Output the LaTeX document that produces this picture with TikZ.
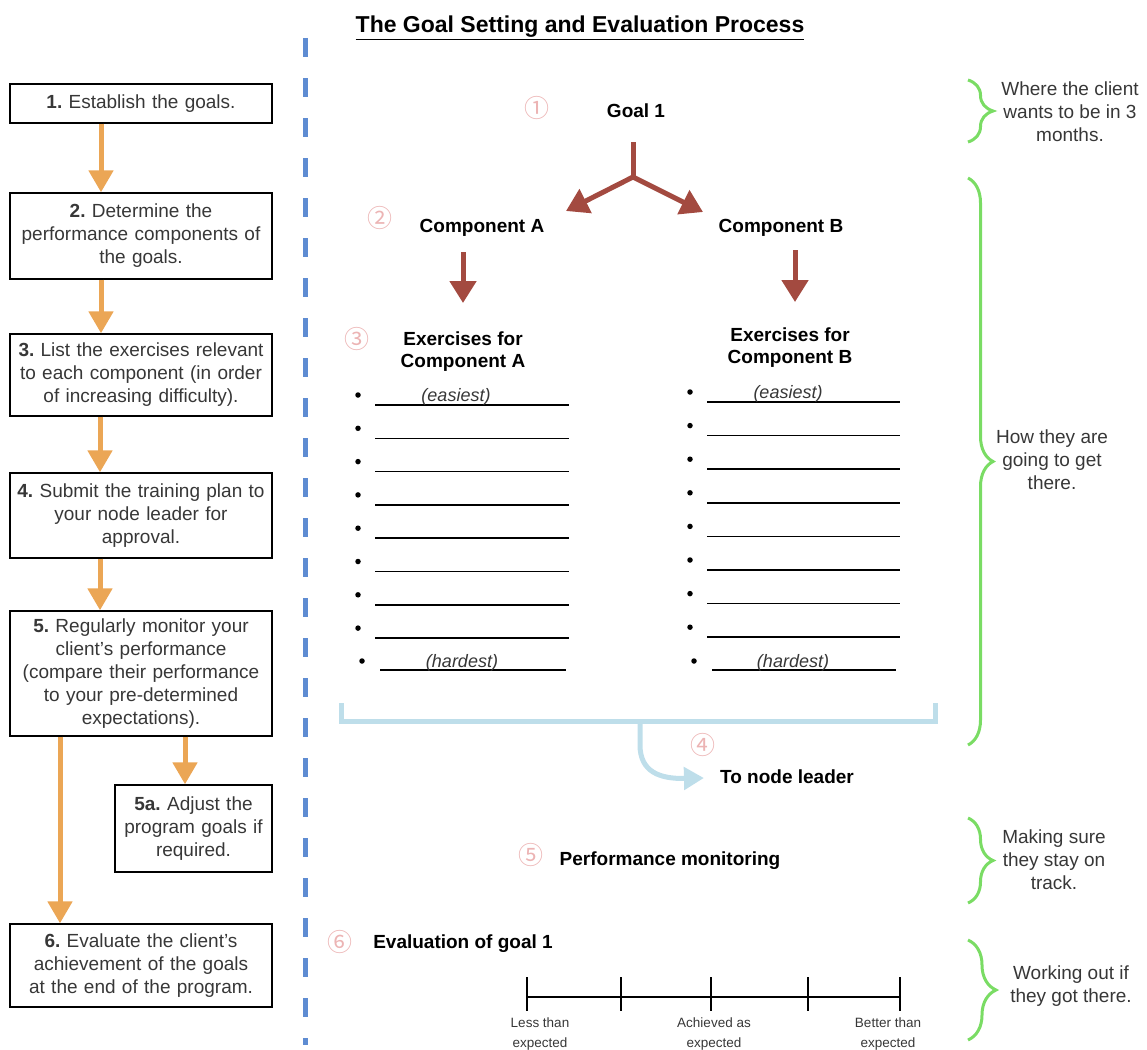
\documentclass[tikz,border=0pt]{standalone}
\usepackage{fontspec}
\setmainfont{Liberation Sans}
\newfontfamily\circfont{Noto Sans CJK SC}
\usetikzlibrary{arrows.meta,decorations.pathreplacing}
\definecolor{orangearr}{RGB}{235,166,85}
\definecolor{brownarr}{RGB}{163,74,64}
\definecolor{lblue}{RGB}{190,222,234}
\definecolor{dblue}{RGB}{94,140,210}
\definecolor{pinknum}{RGB}{236,180,180}
\definecolor{greenbr}{RGB}{122,220,100}
\definecolor{graytext}{RGB}{55,55,55}
\frenchspacing
\begin{document}
\begin{tikzpicture}[x=1pt,y=-1pt,
  every node/.style={font=\fontsize{19}{23}\selectfont, inner sep=0pt},
  stepbox/.style={draw, line width=1.4pt, text width=252pt, inner xsep=5pt, align=center, minimum width=262pt, text=graytext},
  smallbox/.style={draw, line width=1.4pt, text width=147pt, inner xsep=5pt, align=center, minimum width=157pt, text=graytext},
  oarrow/.style={draw=orangearr, line width=5pt, -{Triangle[width=24pt,length=22pt]}},
  bline/.style={draw=brownarr, line width=5pt},
  barrow/.style={draw=brownarr, line width=5pt, -{Triangle[width=26pt,length=22pt]}},
  lbl/.style={font=\bfseries\fontsize{19}{23}\selectfont, text height=14pt, text depth=4pt},
  num/.style={font=\circfont\fontsize{25}{28}\selectfont, text=pinknum},
  bul/.style={circle, fill=black, minimum size=5.5pt},
  uline/.style={draw=black, line width=1.6pt},
  note/.style={align=center, text=graytext},
  gbrace/.style={draw=greenbr, line width=3pt, decorate, decoration={brace, amplitude=25pt, aspect=0.5}},
  scl/.style={align=center, text=graytext, font=\fontsize{13.5}{20}\selectfont}
]
\useasboundingbox (0,0) rectangle (1147,1049);

% title
\node[font=\bfseries\fontsize{23}{28}\selectfont] (title) at (580,28) {\underline{The Goal Setting and Evaluation Process}};

% left column of steps
\node[stepbox, minimum height=39pt] (b1) at (141,103.5) {\textbf{1.} Establish the goals.};
\node[stepbox, minimum height=86pt] (b2) at (141,236) {\textbf{2.} Determine the\\performance components of\\the goals.};
\node[stepbox, minimum height=82pt] (b3) at (141,375) {\textbf{3.} List the exercises relevant\\to each component (in order\\of increasing difficulty).};
\node[stepbox, minimum height=85pt] (b4) at (141,515.5) {\textbf{4.} Submit the training plan to\\your node leader for\\approval.};
\node[stepbox, minimum height=125pt] (b5) at (141,673.5) {\textbf{5.} Regularly monitor your\\client’s performance\\(compare their performance\\to your pre-determined\\expectations).};
\node[smallbox, minimum height=87pt] (b5a) at (193.5,828.5) {\textbf{5a.} Adjust the\\program goals if\\required.};
\node[stepbox, minimum height=83pt] (b6) at (141,965.5) {\textbf{6.} Evaluate the client’s\\achievement of the goals\\at the end of the program.};

\draw[oarrow] ([xshift=-40pt]b1.south) -- ([xshift=-40pt]b2.north);
\draw[oarrow] ([xshift=-40pt]b2.south) -- ([xshift=-40pt]b3.north);
\draw[oarrow] ([xshift=-41pt]b3.south) -- ([xshift=-41pt]b4.north);
\draw[oarrow] ([xshift=-41pt]b4.south) -- ([xshift=-41pt]b5.north);
\coordinate (c5a) at ([xshift=44pt]b5.south);
\draw[oarrow] (c5a) -- (c5a |- b5a.north);
\draw[oarrow] ([xshift=-81pt]b5.south) -- ([xshift=-81pt]b6.north);

% dashed separator
\draw[dblue, line width=5pt, dash pattern=on 19pt off 21pt] (305,38) -- (305,1045);

% goal and components
\node[num] (n1) at (537,108) {①};
\node[lbl] (goal) at (636,112) {Goal 1};
\node[num] (n2) at (380,218) {②};
\node[lbl] (compA) at (482,227) {Component A};
\node[lbl] (compB) at (781,227) {Component B};
\coordinate (gstem) at (633,142);
\coordinate (gj) at (633,177);
\coordinate (gl) at (566,211);
\coordinate (gr) at (703,212);
\draw[bline] (gstem) -- (gj);
\draw[barrow] (gj) -- (gl);
\draw[barrow] (gj) -- (gr);
\coordinate (da1) at (463,252);
\coordinate (da2) at (463,303);
\coordinate (db1) at (795,250);
\coordinate (db2) at (795,302);
\draw[barrow] (da1) -- (da2);
\draw[barrow] (db1) -- (db2);

% exercises
\node[num] (n3) at (357,339) {③};
\node[align=center, font=\bfseries\fontsize{19}{22}\selectfont] (exA) at (463,352) {Exercises for\\Component A};
\node[align=center, font=\bfseries\fontsize{19}{22}\selectfont] (exB) at (790,348) {Exercises for\\Component B};

\foreach \i in {0,...,7} {
  \node[bul] (ba\i) at (358,{395+33.3*\i}) {};
  \draw[uline] (375,{405+33.3*\i}) -- (569,{405+33.3*\i});
  \node[bul] (bb\i) at (690,{392+33.6*\i}) {};
  \draw[uline] (707,{402+33.6*\i}) -- (900,{402+33.6*\i});
}
\node[bul] (ba8) at (362,661) {};
\draw[uline] (380,670) -- (566,670);
\node[bul] (bb8) at (694,661) {};
\draw[uline] (712,670) -- (896,670);
\node[anchor=base, font=\itshape\fontsize{18}{22}\selectfont, text=graytext] (eA) at (456,401) {(easiest)};
\node[anchor=base, font=\itshape\fontsize{18}{22}\selectfont, text=graytext] (eB) at (788,398) {(easiest)};
\node[anchor=base, font=\itshape\fontsize{18}{22}\selectfont, text=graytext] (hA) at (462,667) {(hardest)};
\node[anchor=base, font=\itshape\fontsize{18}{22}\selectfont, text=graytext] (hB) at (793,667) {(hardest)};

% to node leader bracket
\draw[lblue, line width=5pt] (341,703) -- (341,721) -- (935,721) -- (935,703);
\coordinate (lbr) at (640,721);
\node[num] (n4) at (703,745) {④};
\node[lbl] (tnl) at (787,778) {To node leader};
\draw[lblue, line width=5pt, -{Triangle[width=22pt,length=20pt]}] (lbr) -- (640,745) .. controls (640,772) and (660,779) .. ([xshift=-16pt]tnl.west);

% performance monitoring
\node[num] (n5) at (531,855) {⑤};
\node[lbl] (perf) at (670,860) {Performance monitoring};

% evaluation
\node[num] (n6) at (340,942) {⑥};
\node[lbl] (eval) at (463,943) {Evaluation of goal 1};
\draw[line width=1.5pt] (527,997) -- (900,997);
\foreach \x in {527,621,711,808,900} {
  \draw[line width=1.5pt] (\x,977) -- (\x,1011);
}
\node[scl] (s1) at (540,1034) {Less than\\expected};
\node[scl] (s2) at (714,1034) {Achieved as\\expected};
\node[scl] (s3) at (888,1034) {Better than\\expected};

% right side braces and notes
\draw[gbrace] (968,80) -- (968,142);
\node[note] (r1) at (1070,112) {Where the client\\wants to be in 3\\months.};
\draw[gbrace] (968,178) -- (968,745);
\node[note] (r2) at (1052,460) {How they are\\going to get\\there.};
\draw[gbrace] (968,818) -- (968,903);
\node[note] (r3) at (1054,860) {Making sure\\they stay on\\track.};
\draw[gbrace, decoration={brace, amplitude=28pt, aspect=0.5}] (968,940) -- (968,1040);
\node[note] (r4) at (1071,986) {Working out if\\they got there.};
\end{tikzpicture}
\end{document}
